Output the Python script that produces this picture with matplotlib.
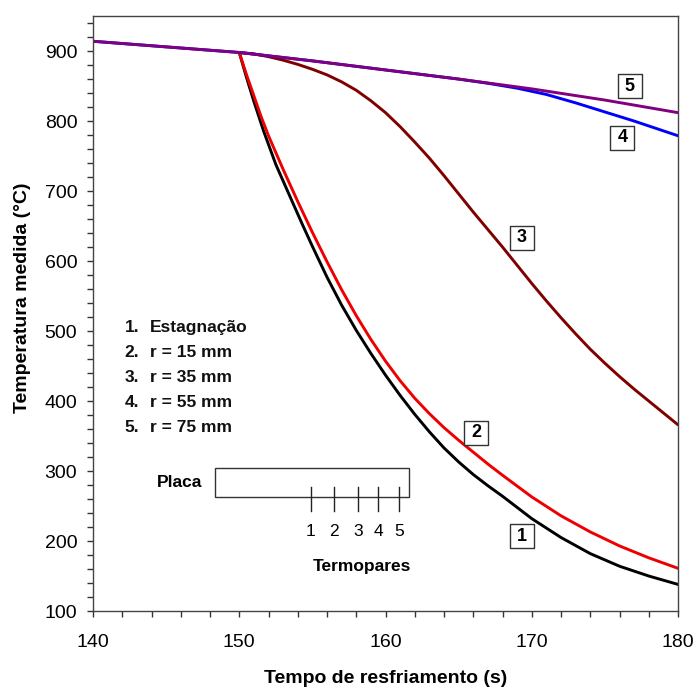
import numpy as np
import matplotlib
matplotlib.use("Agg")
import matplotlib.pyplot as plt
from matplotlib.ticker import MultipleLocator
from matplotlib.patches import Rectangle

plt.rcParams['font.family'] = ['Liberation Sans', 'DejaVu Sans']

# Cooling curves: time (s) and measured temperature (°C) for each thermocouple
t_stag = [150, 150.5, 151, 151.66, 152.5, 153.6, 154.3, 155, 156, 157, 158, 159, 160,
          161, 162, 163, 164, 165, 166, 167, 168, 170, 172, 174, 176, 178, 180]
T_stag = [898, 862, 828, 786, 738, 686, 653, 621, 577, 537, 501, 468, 437,
          408, 381, 356, 333, 313, 295, 279, 264, 232, 205, 182, 164, 150, 138]

t_r15 = [150, 150.5, 151, 151.5, 152, 153, 154, 155, 156, 157, 158, 159, 160,
         161, 162, 163, 164, 165, 166, 167, 168, 170, 172, 174, 176, 178, 180]
T_r15 = [898, 866, 836, 806, 779, 731, 685, 641, 599, 559, 522, 488, 457,
         429, 404, 382, 362, 344, 327, 310, 294, 263, 236, 213, 193, 176, 161]

t_r35 = [150, 151, 152, 153, 154, 155, 156, 157, 158, 159, 160, 161, 162, 163, 164,
         165, 166, 167, 168, 169, 170, 171, 172, 173, 174, 175, 176, 177, 178, 179, 180]
T_r35 = [898, 896, 892, 887, 881, 874, 866, 856, 844, 829, 812, 792, 770, 747, 722,
         696, 670, 645, 620, 594, 568, 543, 519, 496, 474, 454, 435, 417, 400, 383, 366]

t_r55 = [140, 145, 150, 155, 160, 165, 167, 169, 171, 173, 175, 177, 180]
T_r55 = [914, 906, 898, 886, 873, 860, 854, 847, 838, 826, 813, 800, 779]

t_r75 = [140, 145, 150, 155, 160, 165, 170, 175, 180]
T_r75 = [914, 906, 898, 886, 873, 860, 846, 830, 812]

series = [
    (t_stag, T_stag, 'black'),
    (t_r15, T_r15, '#ee0000'),
    (t_r35, T_r35, '#800000'),
    (t_r55, T_r55, '#0000ff'),
    (t_r75, T_r75, '#800080'),
]

# Curve tags (number, time, temperature)
tag_ids = ['1', '2', '3', '4', '5']
tag_t = [169.3, 166.2, 169.3, 176.2, 176.7]
tag_T = [207, 355, 633, 776, 850]

legend_nums = ['1.', '2.', '3.', '4.', '5.']
legend_text = ['Estagnação', 'r = 15 mm', 'r = 35 mm', 'r = 55 mm', 'r = 75 mm']

fig = plt.figure(figsize=(6.94, 6.87), dpi=100)
ax = fig.add_axes([0.134, 0.1106, 0.843, 0.866])

for t, T, c in series:
    ax.plot(t, T, color=c, lw=2.1, solid_joinstyle='round', solid_capstyle='round')

ax.set_xlim(140, 180)
ax.set_ylim(100, 950)
ax.xaxis.set_major_locator(MultipleLocator(10))
ax.xaxis.set_minor_locator(MultipleLocator(2))
ax.yaxis.set_major_locator(MultipleLocator(100))
ax.yaxis.set_minor_locator(MultipleLocator(20))
ax.tick_params(which='both', direction='out', length=4.3, width=1, color='#333333',
               labelsize=14, top=False, right=False)
ax.tick_params(axis='x', pad=12)
ax.tick_params(axis='y', pad=7)
for s in ax.spines.values():
    s.set_color('#444444')
    s.set_linewidth(1.0)

ax.set_xlabel('Tempo de resfriamento (s)', fontsize=14, fontweight='bold', labelpad=14)
ax.set_ylabel('Temperatura medida (°C)', fontsize=14, fontweight='bold')
ax.yaxis.set_label_coords(-0.106, 0.527)

# Boxed curve numbers
ax.scatter(tag_t, tag_T, marker='s', s=17 ** 2, facecolor='white',
           edgecolor='#333333', linewidth=1, zorder=4)
for s, x, y in zip(tag_ids, tag_t, tag_T):
    ax.text(x, y, s, ha='center', va='center', fontsize=13, fontweight='bold', zorder=5)

# Legend listing
for i, (n, s) in enumerate(zip(legend_nums, legend_text)):
    y = 0.476 - i * 0.042
    ax.text(0.054, y, n, transform=ax.transAxes, fontsize=12.5, fontweight='bold',
            va='center', ha='left', color='#111111')
    ax.text(0.097, y, s, transform=ax.transAxes, fontsize=12.5, fontweight='bold',
            va='center', ha='left', color='#111111')

# Plate schematic with thermocouple positions
ax.add_patch(Rectangle((148.36, 262.8), 161.6 - 148.36, 304.7 - 262.8,
                       fill=False, ec='#333333', lw=1))
ax.text(147.5, 284, 'Placa', fontsize=12.5, fontweight='bold', ha='right', va='center')
tc_t = [154.9, 156.5, 158.1, 159.5, 160.9]
for i, x in enumerate(tc_t):
    ax.plot([x, x], [277, 243], color='#222222', lw=1)
    ax.text(x, 213, str(i + 1), fontsize=12.5, ha='center', va='center')
ax.text(158.4, 164, 'Termopares', fontsize=12.5, fontweight='bold', ha='center', va='center')

fig.savefig('out.png', dpi=100)
